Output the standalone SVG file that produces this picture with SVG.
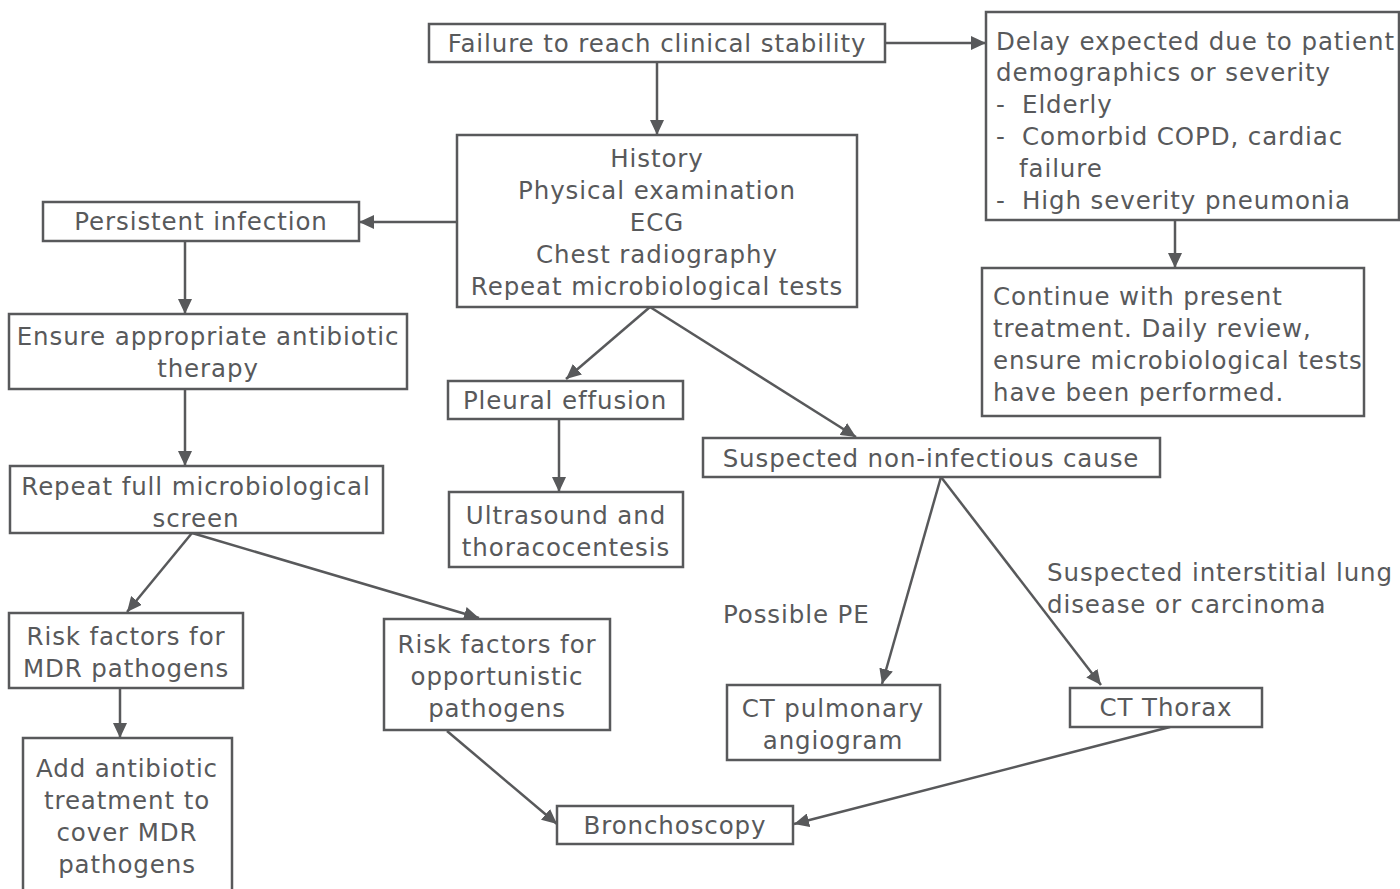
<svg xmlns="http://www.w3.org/2000/svg" width="1400" height="889" viewBox="0 0 1400 889">
<defs>
<style>
.box{fill:#fff;stroke:#58595b;stroke-width:2.5}
.t{font-family:"DejaVu Sans","Liberation Sans",sans-serif;font-size:24.5px;fill:#58595b;letter-spacing:0.9px}
.c{text-anchor:middle}
.edge{stroke:#58595b;stroke-width:2.5;fill:none;marker-end:url(#arr)}
</style>
<marker id="arr" markerUnits="userSpaceOnUse" markerWidth="16" markerHeight="14" refX="15" refY="7" orient="auto">
<path d="M0,0 L15,7 L0,14 z" fill="#58595b"/>
</marker>
</defs>
<rect width="1400" height="889" fill="#fff"/>
<g id="connectors">
<line class="edge" x1="885" y1="43" x2="986" y2="43"/>
<line class="edge" x1="657" y1="62" x2="657" y2="135"/>
<line class="edge" x1="457" y1="222" x2="359" y2="222"/>
<line class="edge" x1="185" y1="241" x2="185" y2="314"/>
<line class="edge" x1="185" y1="389" x2="185" y2="466"/>
<line class="edge" x1="192" y1="533" x2="127" y2="612"/>
<line class="edge" x1="192" y1="533" x2="479" y2="618"/>
<line class="edge" x1="120" y1="688" x2="120" y2="738"/>
<line class="edge" x1="650" y1="307" x2="566" y2="379"/>
<line class="edge" x1="650" y1="307" x2="856" y2="437"/>
<line class="edge" x1="559" y1="419" x2="559" y2="492"/>
<line class="edge" x1="941" y1="477" x2="882" y2="684"/>
<line class="edge" x1="941" y1="477" x2="1101" y2="685"/>
<line class="edge" x1="447" y1="731" x2="557" y2="824"/>
<line class="edge" x1="1170" y1="727" x2="794" y2="824"/>
<line class="edge" x1="1175" y1="220" x2="1175" y2="268"/>
</g>
<g id="n1"><rect class="box" x="429" y="24" width="456" height="38"/><text class="t c" x="657" y="52">Failure to reach clinical stability</text></g>
<g id="n2"><rect class="box" x="986" y="12" width="413" height="208"/>
<text class="t" x="996" y="50">Delay expected due to patient</text>
<text class="t" x="996" y="81">demographics or severity</text>
<text class="t" x="996" y="113">-<tspan x="1022">Elderly</tspan></text>
<text class="t" x="996" y="145">-<tspan x="1022">Comorbid COPD, cardiac</tspan></text>
<text class="t" x="1019" y="177">failure</text>
<text class="t" x="996" y="209">-<tspan x="1022">High severity pneumonia</tspan></text></g>
<g id="n3"><rect class="box" x="457" y="135" width="400" height="172"/>
<text class="t c" x="657" y="167">History</text>
<text class="t c" x="657" y="199">Physical examination</text>
<text class="t c" x="657" y="231">ECG</text>
<text class="t c" x="657" y="263">Chest radiography</text>
<text class="t c" x="657" y="295">Repeat microbiological tests</text></g>
<g id="n4"><rect class="box" x="43" y="202" width="316" height="39"/><text class="t c" x="201" y="230">Persistent infection</text></g>
<g id="n5"><rect class="box" x="9" y="314" width="398" height="75"/>
<text class="t c" x="208" y="345">Ensure appropriate antibiotic</text>
<text class="t c" x="208" y="377">therapy</text></g>
<g id="n6"><rect class="box" x="982" y="268" width="382" height="148"/>
<text class="t" x="993" y="305">Continue with present</text>
<text class="t" x="993" y="337">treatment. Daily review,</text>
<text class="t" x="993" y="369">ensure microbiological tests</text>
<text class="t" x="993" y="401">have been performed.</text></g>
<g id="n7"><rect class="box" x="448" y="381" width="235" height="38"/><text class="t c" x="565" y="409">Pleural effusion</text></g>
<g id="n8"><rect class="box" x="449" y="492" width="234" height="75"/>
<text class="t c" x="566" y="524">Ultrasound and</text>
<text class="t c" x="566" y="556">thoracocentesis</text></g>
<g id="n9"><rect class="box" x="703" y="438" width="457" height="39"/><text class="t c" x="931" y="467">Suspected non-infectious cause</text></g>
<g id="n10"><rect class="box" x="10" y="466" width="373" height="67"/>
<text class="t c" x="196" y="495">Repeat full microbiological</text>
<text class="t c" x="196" y="527">screen</text></g>
<g id="n11"><rect class="box" x="9" y="613" width="234" height="75"/>
<text class="t c" x="126" y="645">Risk factors for</text>
<text class="t c" x="126" y="677">MDR pathogens</text></g>
<g id="n12"><rect class="box" x="23" y="738" width="209" height="160"/>
<text class="t c" x="127" y="777">Add antibiotic</text>
<text class="t c" x="127" y="809">treatment to</text>
<text class="t c" x="127" y="841">cover MDR</text>
<text class="t c" x="127" y="873">pathogens</text></g>
<g id="n13"><rect class="box" x="384" y="619" width="226" height="111"/>
<text class="t c" x="497" y="653">Risk factors for</text>
<text class="t c" x="497" y="685">opportunistic</text>
<text class="t c" x="497" y="717">pathogens</text></g>
<g id="n14"><rect class="box" x="727" y="685" width="213" height="75"/>
<text class="t c" x="833" y="717">CT pulmonary</text>
<text class="t c" x="833" y="749">angiogram</text></g>
<g id="n15"><rect class="box" x="1070" y="688" width="192" height="39"/><text class="t c" x="1166" y="716">CT Thorax</text></g>
<g id="n16"><rect class="box" x="557" y="806" width="236" height="38"/><text class="t c" x="675" y="834">Bronchoscopy</text></g>
<g id="labels">
<text class="t" x="723" y="623">Possible PE</text>
<text class="t" x="1047" y="581">Suspected interstitial lung</text>
<text class="t" x="1047" y="613">disease or carcinoma</text>
</g>
</svg>
